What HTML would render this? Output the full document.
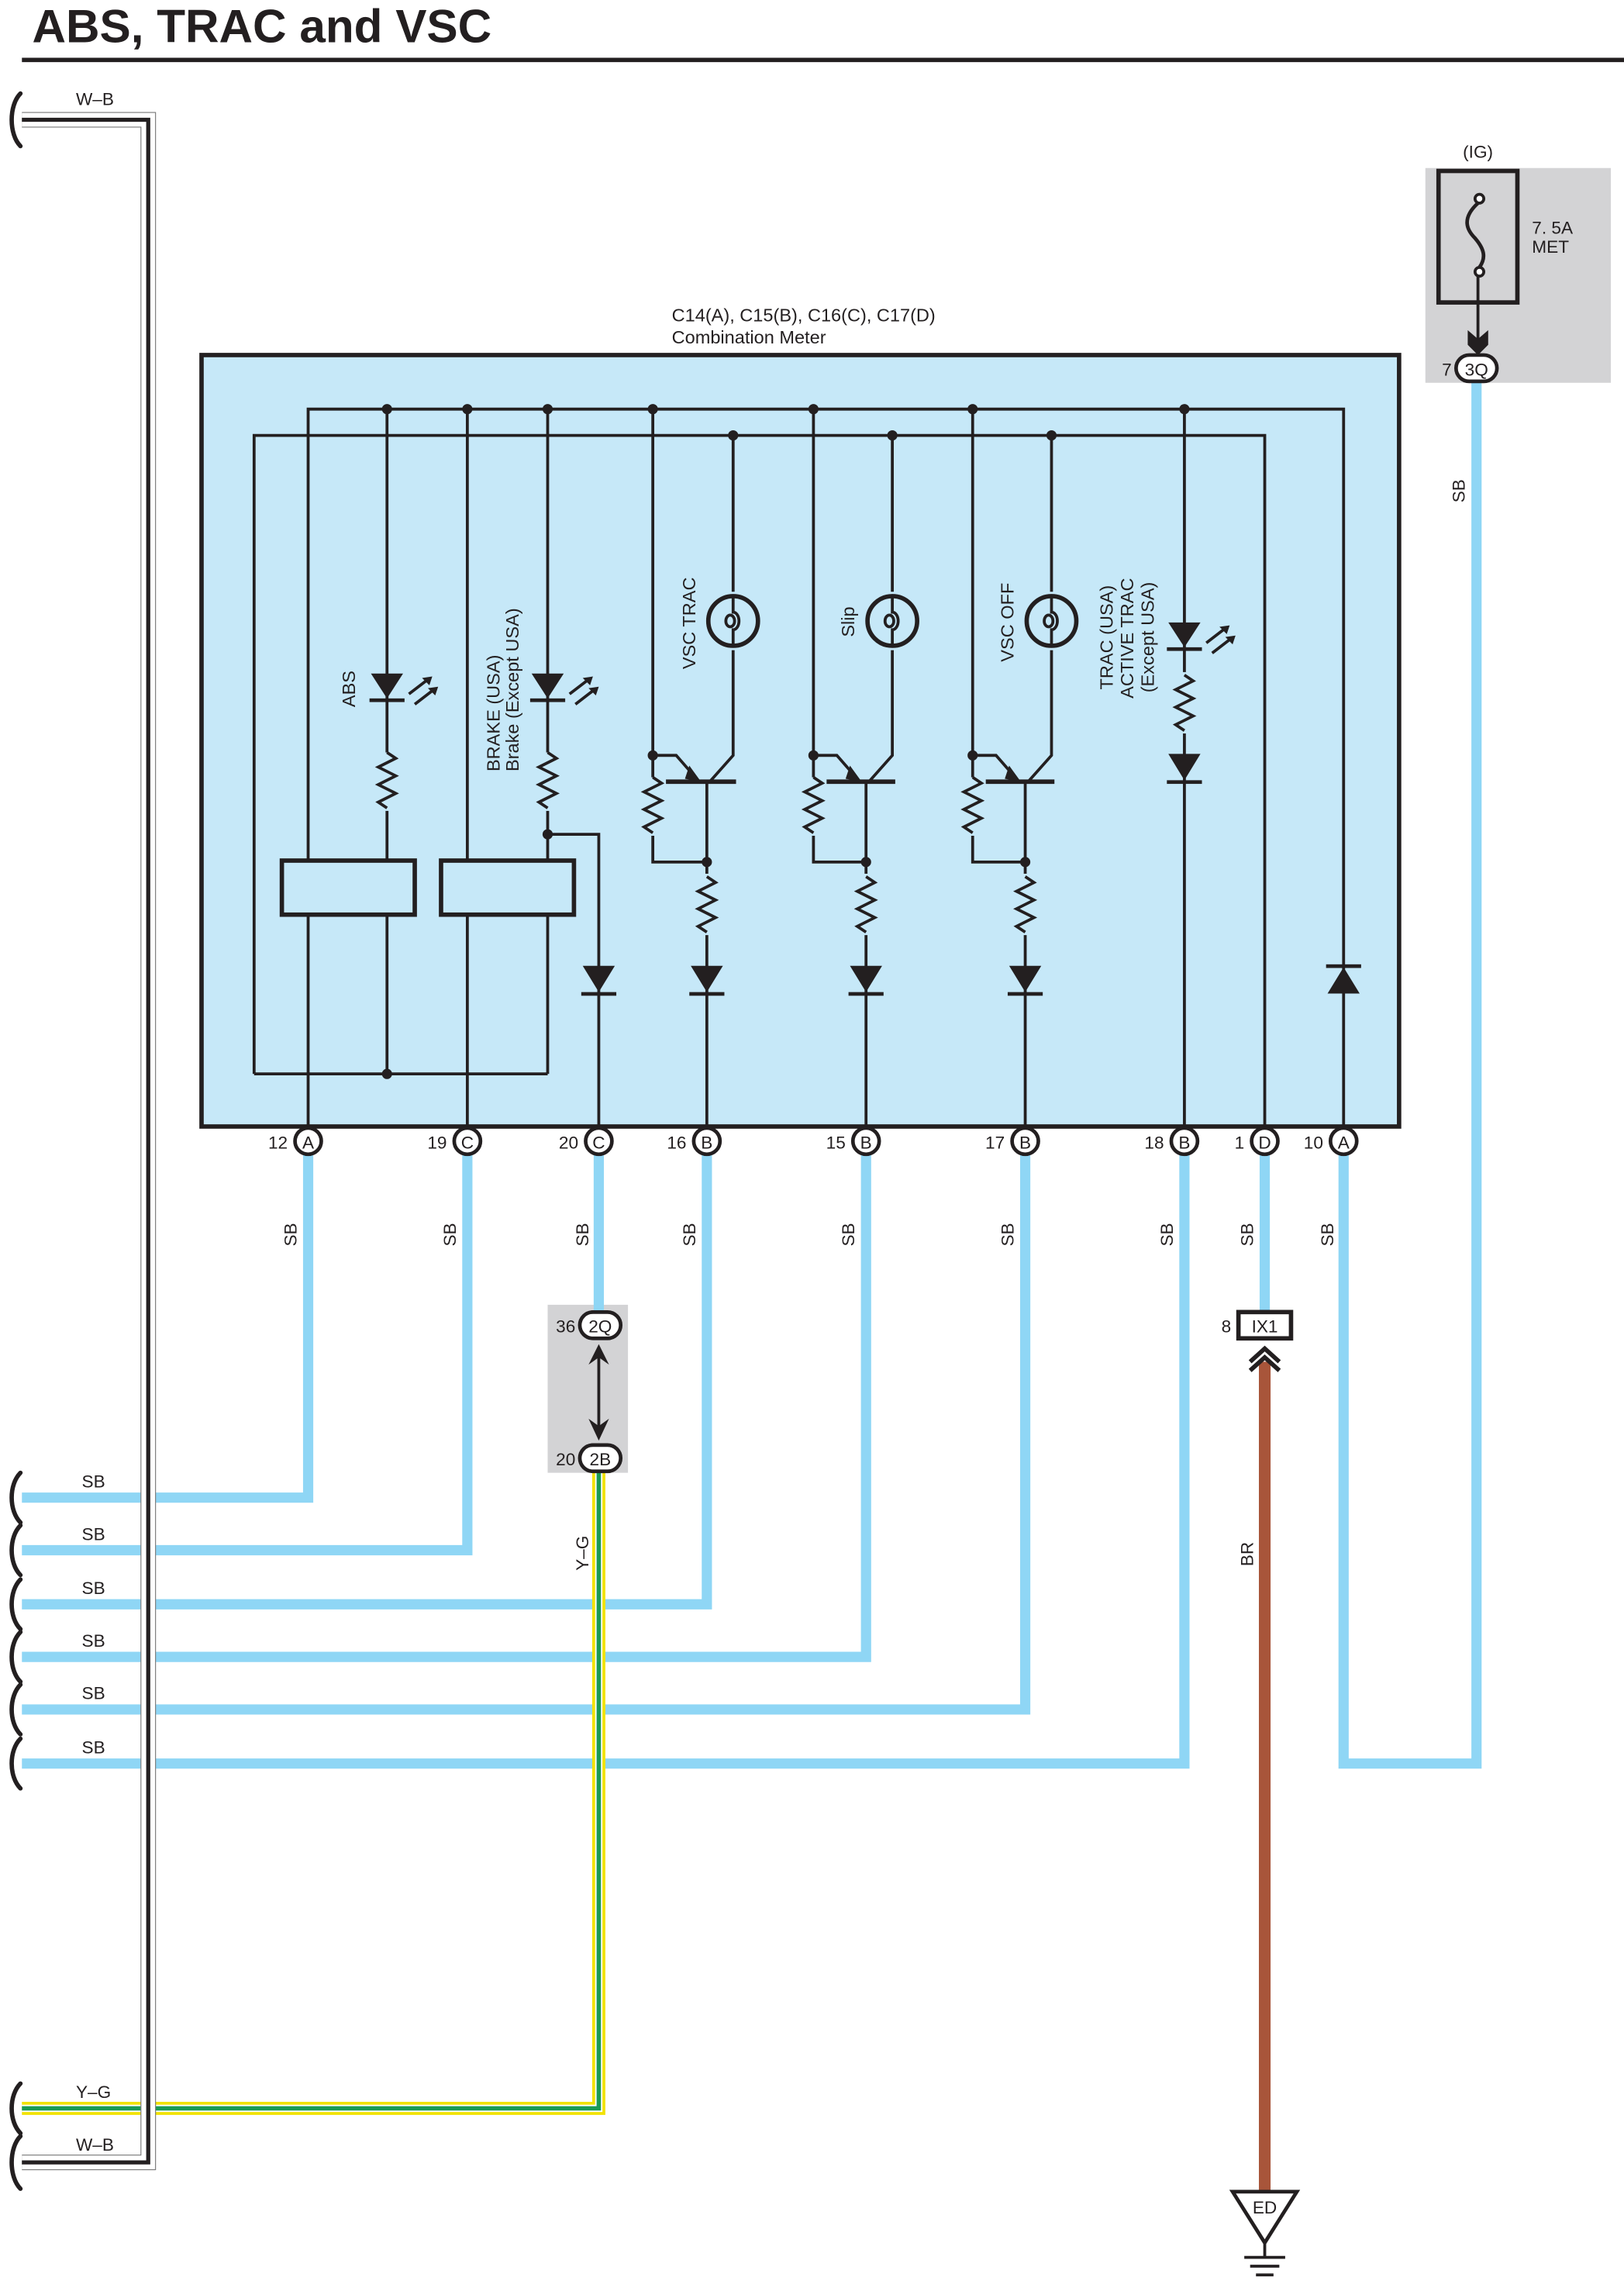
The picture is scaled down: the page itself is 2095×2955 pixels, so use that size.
<!DOCTYPE html>
<html><head><meta charset="utf-8"><style>
html,body{margin:0;padding:0;background:#fff;}
svg{display:block;}
text{font-family:"Liberation Sans",sans-serif;fill:#231f20;}
</style></head><body>
<svg width="2095" height="2955" viewBox="0 0 1112 1568" preserveAspectRatio="none" xmlns="http://www.w3.org/2000/svg">
<text x="22" y="29" font-size="32" font-weight="bold">ABS, TRAC and VSC</text>
<line x1="15" y1="41" x2="1112" y2="41" stroke="#231f20" stroke-width="3"/>

<!-- grey boxes -->
<rect x="976" y="115" width="127" height="147" fill="#d3d3d5"/>
<rect x="375" y="893" width="55" height="115" fill="#d3d3d5"/>

<!-- SB wires -->
<g fill="none" stroke="#8fd6f5" stroke-width="7" stroke-linejoin="miter">
<path d="M211 790 V1025 H15"/>
<path d="M320 790 V1061 H15"/>
<path d="M484 790 V1098 H15"/>
<path d="M593 790 V1134 H15"/>
<path d="M702 790 V1170 H15"/>
<path d="M811 790 V1207 H15"/>
<path d="M410 790 V898"/>
<path d="M866 790 V898"/>
<path d="M920 790 V1207 H1011 V262"/>
</g>
<!-- Y-G -->
<path d="M410 1008 V1443 H15" fill="none" stroke="#f2e200" stroke-width="9"/>
<path d="M410 1008 V1443 H15" fill="none" stroke="#fff" stroke-width="5"/>
<path d="M410 1008 V1443 H15" fill="none" stroke="#1a9a55" stroke-width="3"/>
<!-- BR -->
<path d="M866 932 V1500" stroke="#a8553a" stroke-width="8"/>

<!-- W-B -->
<path d="M15 82 H101.5 V1480 H15" fill="none" stroke="#777" stroke-width="10.6"/>
<path d="M15 82 H101.5 V1480 H15" fill="none" stroke="#fff" stroke-width="9.4"/>
<path d="M15 82 H101.5 V1480 H15" fill="none" stroke="#231f20" stroke-width="2.8"/>
<text x="52" y="72" font-size="12">W–B</text>
<text x="52" y="1472" font-size="12">W–B</text>

<!-- brackets -->
<g fill="none" stroke="#231f20" stroke-width="3" stroke-linecap="round">
<path d="M14 64 C6 72 6 92 14 100"/>
<path d="M14 1008 C6 1016 6 1034 14 1042"/>
<path d="M14 1044 C6 1052 6 1070 14 1078"/>
<path d="M14 1081 C6 1089 6 1107 14 1115"/>
<path d="M14 1117 C6 1125 6 1143 14 1151"/>
<path d="M14 1153 C6 1161 6 1179 14 1187"/>
<path d="M14 1190 C6 1198 6 1216 14 1224"/>
<path d="M14 1426 C6 1434 6 1452 14 1460"/>
<path d="M14 1462 C6 1470 6 1490 14 1498"/>
</g>
<g font-size="12">
<text x="56" y="1018">SB</text><text x="56" y="1054">SB</text><text x="56" y="1091">SB</text>
<text x="56" y="1127">SB</text><text x="56" y="1163">SB</text><text x="56" y="1200">SB</text>
<text x="52" y="1436">Y–G</text>
</g>

<!-- rotated wire labels -->
<g font-size="12">
<text transform="translate(203,853) rotate(-90)">SB</text>
<text transform="translate(312,853) rotate(-90)">SB</text>
<text transform="translate(403,853) rotate(-90)">SB</text>
<text transform="translate(476,853) rotate(-90)">SB</text>
<text transform="translate(585,853) rotate(-90)">SB</text>
<text transform="translate(694,853) rotate(-90)">SB</text>
<text transform="translate(803,853) rotate(-90)">SB</text>
<text transform="translate(858,853) rotate(-90)">SB</text>
<text transform="translate(913,853) rotate(-90)">SB</text>
<text transform="translate(1003,344) rotate(-90)">SB</text>
<text transform="translate(403,1075) rotate(-90)">Y–G</text>
<text transform="translate(858,1072) rotate(-90)">BR</text>
</g>

<!-- combination meter -->
<text x="460" y="220" font-size="12.5">C14(A), C15(B), C16(C), C17(D)</text>
<text x="460" y="235" font-size="12.5">Combination Meter</text>
<rect x="138" y="243" width="820" height="528" fill="#c6e8f8" stroke="#231f20" stroke-width="3"/>

<g fill="none" stroke="#231f20" stroke-width="2">
<path d="M211 771 V280 H920 V771"/>
<path d="M174 735 V298 H866 V771"/>
<path d="M174 735 H375"/>
<path d="M265 280 V589 M265 626 V735"/>
<path d="M320 280 V771"/>
<path d="M375 280 V589 M375 626 V735"/>
<path d="M375 571 H410 V771"/>
<path d="M447 280 V590 H484 M484 535 V771 M502 298 V517 L486 535"/>
<path d="M557 280 V590 H593 M593 535 V771 M611 298 V517 L595 535"/>
<path d="M666 280 V590 H702 M702 535 V771 M720 298 V517 L704 535"/>
<path d="M811 280 V771"/>
</g>
<g fill="#c6e8f8" stroke="none">
<rect x="258" y="515" width="14" height="40"/>
<rect x="368" y="515" width="14" height="40"/>
<rect x="440" y="532" width="14" height="40"/>
<rect x="550" y="532" width="14" height="40"/>
<rect x="659" y="532" width="14" height="40"/>
<rect x="477" y="598" width="14" height="42"/>
<rect x="586" y="598" width="14" height="42"/>
<rect x="695" y="598" width="14" height="42"/>
<rect x="804" y="460" width="14" height="42"/>
<rect x="494" y="405" width="16" height="40"/>
<rect x="603" y="405" width="16" height="40"/>
<rect x="712" y="405" width="16" height="40"/>
</g>
<g fill="none" stroke="#231f20" stroke-width="2" stroke-linejoin="miter">
<path d="M265 515 l6 4 l-12 6 l12 6 l-12 6 l12 6 l-12 6 l6 4"/>
<path d="M375 515 l6 4 l-12 6 l12 6 l-12 6 l12 6 l-12 6 l6 4"/>
<path d="M447 532 l6 4 l-12 6 l12 6 l-12 6 l12 6 l-12 6 l6 4"/>
<path d="M557 532 l6 4 l-12 6 l12 6 l-12 6 l12 6 l-12 6 l6 4"/>
<path d="M666 532 l6 4 l-12 6 l12 6 l-12 6 l12 6 l-12 6 l6 4"/>
<path d="M484 600 l6 4 l-12 6 l12 6 l-12 6 l12 6 l-12 6 l6 4"/>
<path d="M593 600 l6 4 l-12 6 l12 6 l-12 6 l12 6 l-12 6 l6 4"/>
<path d="M702 600 l6 4 l-12 6 l12 6 l-12 6 l12 6 l-12 6 l6 4"/>
<path d="M811 462 l6 4 l-12 6 l12 6 l-12 6 l12 6 l-12 6 l6 4"/>
<rect x="193" y="589" width="91" height="37" stroke-width="3" fill="#c6e8f8"/>
<rect x="302" y="589" width="91" height="37" stroke-width="3" fill="#c6e8f8"/>
<circle cx="502" cy="425" r="17" stroke-width="3" fill="#c6e8f8"/>
<circle cx="611" cy="425" r="17" stroke-width="3" fill="#c6e8f8"/>
<circle cx="720" cy="425" r="17" stroke-width="3" fill="#c6e8f8"/>
<path d="M502 408 V419 a4 6 0 1 1 0 12 V442 M611 408 V419 a4 6 0 1 1 0 12 V442 M720 408 V419 a4 6 0 1 1 0 12 V442"/>
<ellipse cx="500" cy="425" rx="3" ry="4"/><ellipse cx="609" cy="425" rx="3" ry="4"/><ellipse cx="718" cy="425" rx="3" ry="4"/>
<path d="M447 517 H463 L477 533 M557 517 H573 L587 533 M666 517 H682 L696 533"/>
<path d="M456 535 H504 M566 535 H613 M675 535 H722" stroke-width="3"/>
<path d="M280 475 L293 465 M284 482 L297 472 M390 475 L403 465 M394 482 L407 472 M826 440 L839 430 M830 447 L843 437"/>
</g>
<g fill="#231f20">
<polygon points="472,524 480,535 469,533"/><polygon points="582,524 590,535 579,533"/><polygon points="691,524 699,535 688,533"/>
<polygon points="296,463 289,464 294,469"/><polygon points="300,470 293,471 298,476"/>
<polygon points="406,463 399,464 404,469"/><polygon points="410,470 403,471 408,476"/>
<polygon points="842,428 835,429 840,434"/><polygon points="846,435 839,436 844,441"/>
<polygon points="254,461 276,461 265,478"/><rect x="253" y="478" width="24" height="2.5"/>
<polygon points="364,461 386,461 375,478"/><rect x="363" y="478" width="24" height="2.5"/>
<polygon points="800,426 822,426 811,443"/><rect x="799" y="443" width="24" height="2.5"/>
<polygon points="399,661 421,661 410,679"/><rect x="398" y="679" width="24" height="2.5"/>
<polygon points="473,661 495,661 484,679"/><rect x="472" y="679" width="24" height="2.5"/>
<polygon points="582,661 604,661 593,679"/><rect x="581" y="679" width="24" height="2.5"/>
<polygon points="691,661 713,661 702,679"/><rect x="690" y="679" width="24" height="2.5"/>
<polygon points="800,516 822,516 811,534"/><rect x="799" y="534" width="24" height="2.5"/>
<polygon points="909,680 931,680 920,662"/><rect x="908" y="660" width="24" height="2.5"/>
<circle cx="265" cy="280" r="3.5"/><circle cx="320" cy="280" r="3.5"/><circle cx="375" cy="280" r="3.5"/>
<circle cx="447" cy="280" r="3.5"/><circle cx="557" cy="280" r="3.5"/><circle cx="666" cy="280" r="3.5"/><circle cx="811" cy="280" r="3.5"/>
<circle cx="502" cy="298" r="3.5"/><circle cx="611" cy="298" r="3.5"/><circle cx="720" cy="298" r="3.5"/>
<circle cx="265" cy="735" r="3.5"/><circle cx="375" cy="571" r="3.5"/>
<circle cx="447" cy="517" r="3.5"/><circle cx="557" cy="517" r="3.5"/><circle cx="666" cy="517" r="3.5"/>
<circle cx="484" cy="590" r="3.5"/><circle cx="593" cy="590" r="3.5"/><circle cx="702" cy="590" r="3.5"/>
</g>
<g font-size="12.5">
<text transform="translate(243,484) rotate(-90)">ABS</text>
<text transform="translate(342,528) rotate(-90)">BRAKE (USA)</text>
<text transform="translate(355,528) rotate(-90)">Brake (Except USA)</text>
<text transform="translate(476,458) rotate(-90)">VSC TRAC</text>
<text transform="translate(585,436) rotate(-90)">Slip</text>
<text transform="translate(694,453) rotate(-90)">VSC OFF</text>
<text transform="translate(762,472) rotate(-90)">TRAC (USA)</text>
<text transform="translate(776,478) rotate(-90)">ACTIVE TRAC</text>
<text transform="translate(790,474) rotate(-90)">(Except USA)</text>
</g>

<g fill="#fff" stroke="#231f20" stroke-width="2.5">
<circle cx="211" cy="781" r="9"/><circle cx="320" cy="781" r="9"/><circle cx="410" cy="781" r="9"/>
<circle cx="484" cy="781" r="9"/><circle cx="593" cy="781" r="9"/><circle cx="702" cy="781" r="9"/>
<circle cx="811" cy="781" r="9"/><circle cx="866" cy="781" r="9"/><circle cx="920" cy="781" r="9"/>
<rect x="397" y="898" width="28" height="18" rx="9"/>
<rect x="397" y="989" width="28" height="18" rx="9"/>
<rect x="997" y="243" width="28" height="18" rx="9"/>
<rect x="848" y="898" width="36" height="18" stroke-width="3"/>
</g>
<g font-size="12" text-anchor="middle">
<text x="211" y="786">A</text><text x="320" y="786">C</text><text x="410" y="786">C</text>
<text x="484" y="786">B</text><text x="593" y="786">B</text><text x="702" y="786">B</text>
<text x="811" y="786">B</text><text x="866" y="786">D</text><text x="920" y="786">A</text>
<text x="411" y="912">2Q</text><text x="411" y="1003">2B</text><text x="1011" y="257">3Q</text>
<text x="866" y="912">IX1</text>
</g>
<g font-size="12" text-anchor="end">
<text x="197" y="786">12</text><text x="306" y="786">19</text><text x="396" y="786">20</text>
<text x="470" y="786">16</text><text x="579" y="786">15</text><text x="688" y="786">17</text>
<text x="797" y="786">18</text><text x="852" y="786">1</text><text x="906" y="786">10</text>
<text x="394" y="912">36</text><text x="394" y="1003">20</text><text x="994" y="257">7</text>
<text x="843" y="912">8</text>
</g>

<path d="M410 922 V982" stroke="#231f20" stroke-width="2"/>
<polygon points="403,934 410,920 417,934 410,929" fill="#231f20"/>
<polygon points="403,971 410,976 417,971 410,986" fill="#231f20"/>
<path d="M856 932 L866 923 L876 932 M856 938 L866 929 L876 938" fill="none" stroke="#231f20" stroke-width="3"/>

<rect x="985" y="117" width="54" height="90" fill="none" stroke="#231f20" stroke-width="3"/>
<circle cx="1013" cy="136" r="3" fill="#fff" stroke="#231f20" stroke-width="2"/>
<circle cx="1013" cy="186" r="3" fill="#fff" stroke="#231f20" stroke-width="2"/>
<path d="M1012 139 C1000 150 1005 158 1010 163 C1016 170 1018 176 1013 183" fill="none" stroke="#231f20" stroke-width="2.5"/>
<path d="M1012 189 V238" stroke="#231f20" stroke-width="2"/>
<polygon points="1005,226 1012,232 1019,226 1019,236 1012,243 1005,236" fill="#231f20"/>
<text x="1012" y="108" font-size="12" text-anchor="middle">(IG)</text>
<text x="1049" y="160" font-size="12">7. 5A</text>
<text x="1049" y="173" font-size="12">MET</text>

<polygon points="844,1500 888,1500 866,1535" fill="#fff" stroke="#231f20" stroke-width="2.5"/>
<text x="866" y="1515" font-size="12" text-anchor="middle">ED</text>
<path d="M866 1535 V1545 M852 1545 H880 M856 1551 H876 M860 1557 H872" stroke="#231f20" stroke-width="2"/>
</svg>
</body></html>
